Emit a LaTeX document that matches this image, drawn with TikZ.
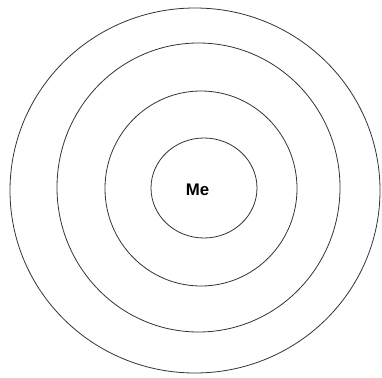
\documentclass[tikz,border=0pt]{standalone}
\usepackage{fontspec}
\setmainfont{Liberation Sans}
\begin{document}
\begin{tikzpicture}[x=1pt,y=-1pt,
  ring/.style={draw=black!80,line width=0.8pt}]
\useasboundingbox (0,0) rectangle (382,377);
\draw[ring] (195,190.5) ellipse [x radius=185, y radius=182.5];
\draw[ring] (198.5,187.5) ellipse [x radius=141.5, y radius=144.5];
\draw[ring] (201,188.5) ellipse [x radius=96, y radius=97.5];
\draw[ring] (204,188) ellipse [x radius=53, y radius=50];
\node[font=\fontsize{16.8}{20}\selectfont\bfseries, inner sep=0pt] (me) at (197.5,189.5) {Me};
\end{tikzpicture}
\end{document}
